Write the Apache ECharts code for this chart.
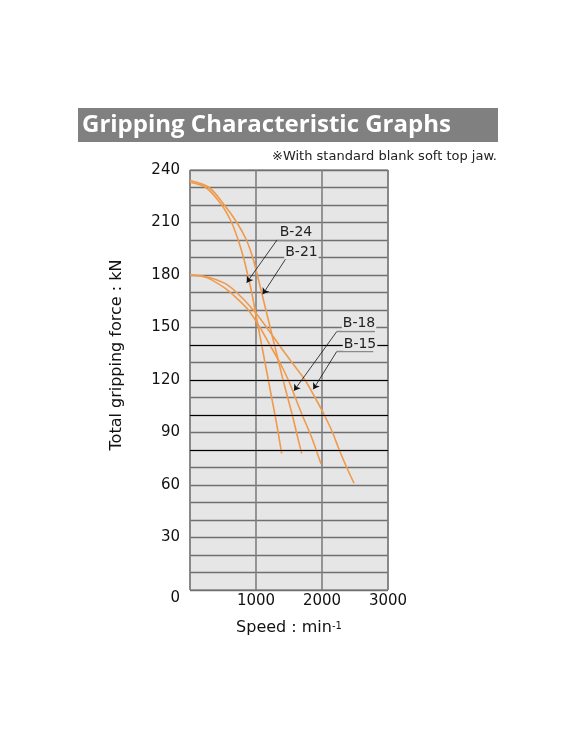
<!DOCTYPE html>
<html>
<head>
<meta charset="utf-8">
<script src="https://cdn.jsdelivr.net/npm/echarts@6/dist/echarts.min.js"></script>
<style>
html,body{margin:0;padding:0;background:#fff;}
#chart{width:576px;height:744px;}
</style>
</head>
<body>
<div id="chart"></div>
<script>
// curves: [speed min-1, force kN]
const b24 = [[0,233],[240,230],[480,220],[630,210],[730,200],[810,190],[875,180],[935,170],[985,160],[1035,150],[1086,140],[1136,130],[1187,120],[1237,110],[1288,100],[1340,89],[1389,78]];
const b21 = [[0,234],[290,230],[520,220],[710,210],[855,200],[950,190],[1020,180],[1085,170],[1150,160],[1215,150],[1280,140],[1345,130],[1410,120],[1480,110],[1550,100],[1620,89],[1692,78]];
const b18 = [[0,180],[250,178.5],[530,172.5],[700,167],[884,160],[1060,150],[1210,140],[1360,130],[1490,120],[1595,110],[1700,100],[1845,87],[1985,72]];
const b15 = [[0,180],[250,179],[530,175.2],[707,170],[960,160],[1162,150],[1350,140],[1545,130],[1742,120],[1894,110],[2035,100],[2160,90],[2262,80],[2375,70],[2485,61]];
const seriesNames = ['B-24', 'B-21', 'B-18', 'B-15'];
const blackLines = [80, 100, 120, 140];

// label placement (data units)
const notes = {
  'B-24': {text: [1606, 204.5], under: [[1318, 200], [1864, 200]], tip: [859, 175.6]},
  'B-21': {text: [1689, 193], under: [[1455, 189.5], [1924, 189.5]], tip: [1102, 169]},
  'B-18': {text: [2561, 152.3], under: [[2222, 147.6], [2803, 147.6]], tip: [1576, 113.9]},
  'B-15': {text: [2576, 140.6], under: [[2222, 136.2], [2777, 136.2]], tip: [1868, 114.7]}
};

const font = 'DejaVu Sans';
const orange = '#ef9a4c';

function makeSeries(name, data) {
  const n = notes[name];
  return {
    name: name,
    type: 'line',
    data: data,
    smooth: 0.3,
    showSymbol: false,
    silent: true,
    lineStyle: {color: orange, width: 1.6},
    z: 4,
    markLine: {
      silent: true,
      animation: false,
      label: {show: false},
      symbol: ['none', 'arrow'],
      symbolSize: 6,
      lineStyle: {type: 'solid'},
      data: [
        [{coord: n.under[0], symbol: 'none', lineStyle: {color: '#8a8a8a', width: 1.3, type: 'solid'}}, {coord: n.under[1], symbol: 'none'}],
        [{coord: n.under[0], lineStyle: {color: '#111', width: 0.8, type: 'solid'}}, {coord: n.tip}]
      ]
    },
    markPoint: {
      silent: true,
      animation: false,
      symbol: 'rect',
      symbolSize: 1,
      itemStyle: {color: 'rgba(0,0,0,0)'},
      label: {
        show: true, position: 'inside', formatter: name,
        fontFamily: font, fontSize: 14, color: '#222',
        backgroundColor: '#e6e6e6', padding: [0, 1]
      },
      data: [{coord: n.text}]
    }
  };
}

const chart = echarts.init(document.getElementById('chart'));
chart.setOption({
  animation: false,
  backgroundColor: '#fff',
  grid: {
    left: 190, right: 188, top: 170, bottom: 154,
    show: true, backgroundColor: '#e6e6e6', borderColor: '#666', borderWidth: 1
  },
  xAxis: {
    type: 'value', min: 0, max: 3000, interval: 1000,
    axisLine: {show: false}, axisTick: {show: false},
    axisLabel: {
      margin: 4, fontFamily: font, fontSize: 15, color: '#111',
      formatter: v => v === 0 ? '' : String(v)
    },
    splitLine: {show: true, lineStyle: {color: '#7f7f7f', width: 1.6}},
    name: '{a|Speed : min}{b|-1}',
    nameLocation: 'middle', nameGap: 30,
    nameTextStyle: {
      rich: {
        a: {fontFamily: font, fontSize: 16, color: '#111'},
        b: {fontFamily: font, fontSize: 10, color: '#111', padding: [0, 0, 3, 0]}
      }
    }
  },
  yAxis: {
    type: 'value', min: 0, max: 240, interval: 10,
    axisLine: {show: false}, axisTick: {show: false},
    axisLabel: {
      margin: 10, fontFamily: font, fontSize: 15, color: '#111',
      formatter: v => (v !== 0 && v % 30 === 0) ? String(v) : ''
    },
    splitLine: {show: true, lineStyle: {color: '#6f6f6f', width: 1.3}}
  },
  graphic: [
    {type: 'rect', shape: {x: 78, y: 108, width: 420, height: 34}, style: {fill: '#808080'}},
    {type: 'text', x: 82, y: 125, style: {text: 'Gripping Characteristic Graphs', fill: '#fff', fontFamily: 'Open Sans', fontWeight: 'bold', fontSize: 24, verticalAlign: 'middle'}},
    {type: 'text', x: 497, y: 157, style: {text: '※With standard blank soft top jaw.', fill: '#222', fontFamily: font, fontSize: 13, align: 'right', verticalAlign: 'middle'}},
    {type: 'text', x: 180, y: 598, style: {text: '0', fill: '#111', fontFamily: font, fontSize: 15, align: 'right', verticalAlign: 'middle'}},
    {type: 'text', x: 117, y: 355, rotation: Math.PI / 2, style: {text: 'Total gripping force : kN', fill: '#111', fontFamily: font, fontSize: 16, align: 'center', verticalAlign: 'middle'}}
  ],
  series: [
    {
      name: 'grid-black',
      type: 'line',
      data: [],
      silent: true,
      z: 2,
      markLine: {
        silent: true,
        animation: false,
        symbol: 'none',
        label: {show: false},
        lineStyle: {color: '#000', width: 1.2, type: 'solid'},
        data: blackLines.map(v => ({yAxis: v}))
      }
    }
  ].concat([b24, b21, b18, b15].map((d, i) => makeSeries(seriesNames[i], d)))
});
</script>
</body>
</html>
